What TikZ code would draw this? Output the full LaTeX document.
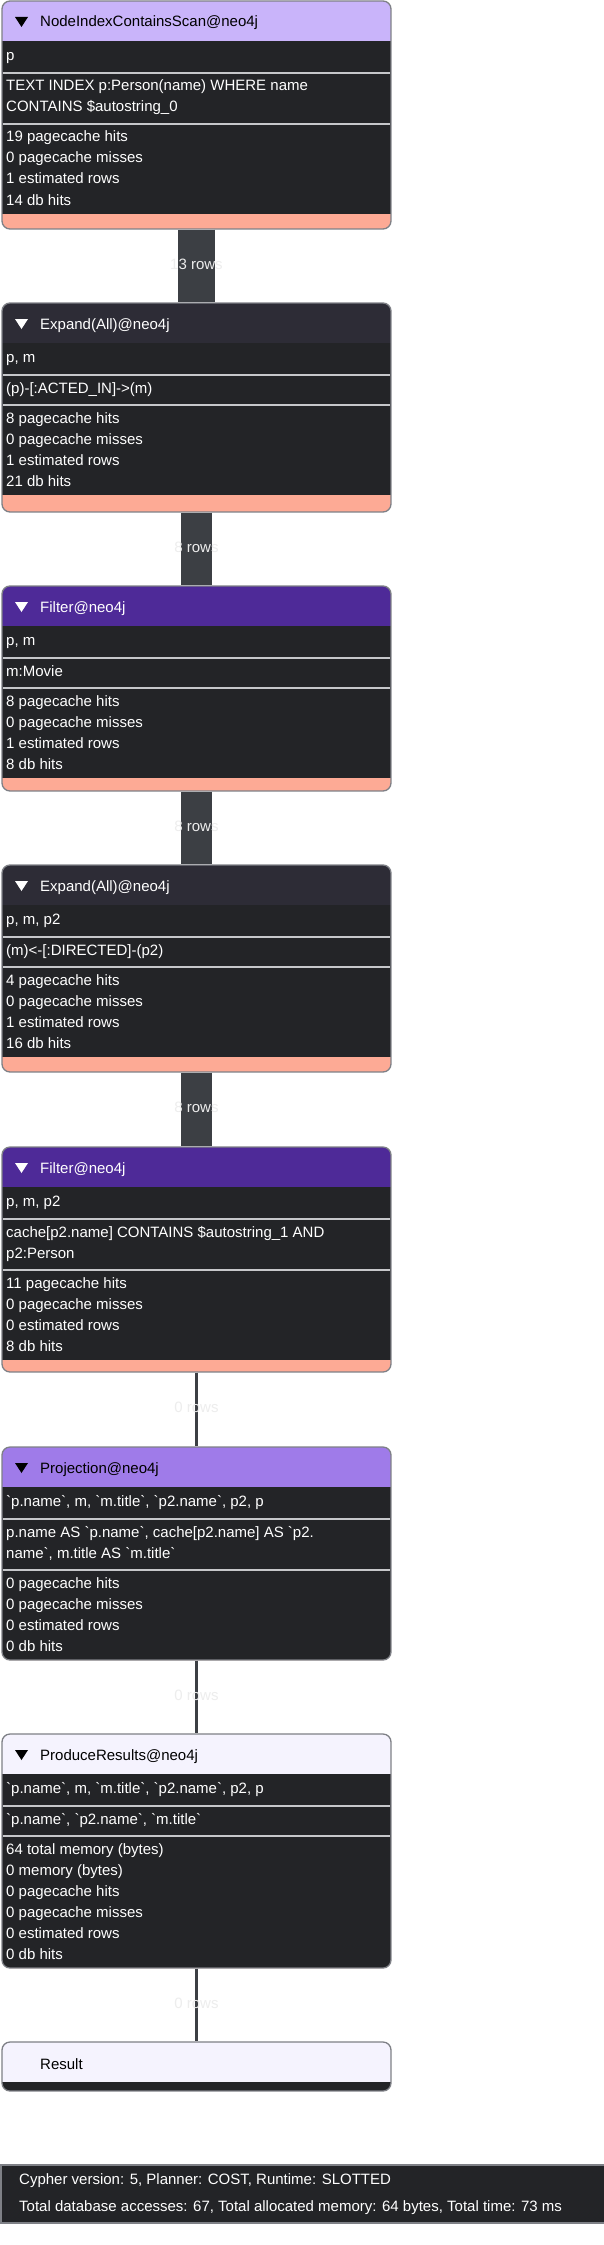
\documentclass[tikz,border=0pt]{standalone}
\usepackage{fontspec}
\setmainfont{Liberation Sans}
\usetikzlibrary{fit}

\definecolor{bodyc}{HTML}{232427}
\definecolor{scanc}{HTML}{C9B4FA}
\definecolor{expandc}{HTML}{2D2C36}
\definecolor{filterc}{HTML}{4E2A98}
\definecolor{projc}{HTML}{9F7BE9}
\definecolor{producec}{HTML}{F5F3FE}
\definecolor{hotc}{HTML}{FDAA95}
\definecolor{sepc}{HTML}{C6C7CA}
\definecolor{framec}{HTML}{7E8086}
\definecolor{barc}{HTML}{3C3F44}
\definecolor{lblc}{HTML}{EDEDED}
\newcommand{\bq}{\textasciigrave}

\tikzset{
	opframe/.style={draw=framec, line width=1.3pt, rounded corners=8pt, inner sep=0pt},
	sepline/.style={draw=sepc, line width=1.3pt},
	txt/.style={anchor=base west, inner sep=0pt, text=white, font=\fontsize{15}{18}\selectfont},
	foottxt/.style={txt, font=\fontsize{15}{18}\selectfont},
	rowbar/.style={draw=barc, line width=#1},
	rowlbl/.style={text=lblc, inner sep=0pt, yshift=2pt, font=\fontsize{15}{18}\selectfont},
}

% name, top, bottom, cost bar top, header fill, header text, title
\newcommand{\opbox}[7]{%
	\begin{scope}
		\clip[rounded corners=8pt] (2,#2) rectangle (391,#3);
		\fill[bodyc] (2,#2) rectangle (391,#3);
		\fill[#5] (2,#2) rectangle (391,#2+40);
		\fill[hotc] (2,#4) rectangle (391,#3);
	\end{scope}
	\fill[#6] (15,#2+16) -- (28,#2+16) -- (21.5,#2+26) -- cycle;
	\node[txt, text=#6] (#1-title) at (40,#2+26) {#7};
	\node[opframe, fit={(2,#2) (391,#3)}] (#1) {};
}

\begin{document}
\begin{tikzpicture}[x=1pt, y=-1pt]
	\useasboundingbox (0,0) rectangle (604,2245);
	\fill[white] (0,0) rectangle (604,2245);

	% NodeIndexContainsScan
	\opbox{scan}{1}{229}{214}{scanc}{black}{NodeIndexContainsScan@neo4j}
	\draw[sepline] (3,73) -- (390,73);
	\draw[sepline] (3,124) -- (390,124);
	\node[txt] (scan-out) at (6,61) {p};
	\node[txt] (scan-d1) at (6,91) {TEXT INDEX p:Person(name) WHERE name};
	\node[txt] (scan-d2) at (6,112) {CONTAINS \$autostring\_0};
	\foreach \s [count=\i from 0] in {19 pagecache hits, 0 pagecache misses, 1 estimated rows, 14 db hits}
		\node[txt] (scan-s\i) at (6,142+21*\i) {\s};

	% Expand(All) p -> m
	\opbox{expandA}{303}{512}{495}{expandc}{white}{Expand(All)@neo4j}
	\draw[sepline] (3,375) -- (390,375);
	\draw[sepline] (3,405) -- (390,405);
	\node[txt] (expandA-out) at (6,362) {p, m};
	\node[txt] (expandA-d1) at (6,393) {(p)-[:ACTED\_IN]->(m)};
	\foreach \s [count=\i from 0] in {8 pagecache hits, 0 pagecache misses, 1 estimated rows, 21 db hits}
		\node[txt] (expandA-s\i) at (6,423+21*\i) {\s};

	% Filter m:Movie
	\opbox{filterA}{586}{791}{778}{filterc}{white}{Filter@neo4j}
	\draw[sepline] (3,658) -- (390,658);
	\draw[sepline] (3,688) -- (390,688);
	\node[txt] (filterA-out) at (6,645) {p, m};
	\node[txt] (filterA-d1) at (6,676) {m:Movie};
	\foreach \s [count=\i from 0] in {8 pagecache hits, 0 pagecache misses, 1 estimated rows, 8 db hits}
		\node[txt] (filterA-s\i) at (6,706+21*\i) {\s};

	% Expand(All) m <- p2
	\opbox{expandB}{865}{1072}{1057}{expandc}{white}{Expand(All)@neo4j}
	\draw[sepline] (3,937) -- (390,937);
	\draw[sepline] (3,967) -- (390,967);
	\node[txt] (expandB-out) at (6,924) {p, m, p2};
	\node[txt] (expandB-d1) at (6,955) {(m)<-[:DIRECTED]-(p2)};
	\foreach \s [count=\i from 0] in {4 pagecache hits, 0 pagecache misses, 1 estimated rows, 16 db hits}
		\node[txt] (expandB-s\i) at (6,985+21*\i) {\s};

	% Filter p2
	\opbox{filterB}{1147}{1372}{1360}{filterc}{white}{Filter@neo4j}
	\draw[sepline] (3,1219) -- (390,1219);
	\draw[sepline] (3,1270) -- (390,1270);
	\node[txt] (filterB-out) at (6,1206) {p, m, p2};
	\node[txt] (filterB-d1) at (6,1237) {cache[p2.name] CONTAINS \$autostring\_1 AND};
	\node[txt] (filterB-d2) at (6,1258) {p2:Person};
	\foreach \s [count=\i from 0] in {11 pagecache hits, 0 pagecache misses, 0 estimated rows, 8 db hits}
		\node[txt] (filterB-s\i) at (6,1288+21*\i) {\s};

	% Projection
	\opbox{proj}{1447}{1660}{1660}{projc}{black}{Projection@neo4j}
	\draw[sepline] (3,1519) -- (390,1519);
	\draw[sepline] (3,1570) -- (390,1570);
	\node[txt] (proj-out) at (6,1506) {\bq p.name\bq, m, \bq m.title\bq, \bq p2.name\bq, p2, p};
	\node[txt] (proj-d1) at (6,1537) {p.name AS \bq p.name\bq, cache[p2.name] AS \bq p2.};
	\node[txt] (proj-d2) at (6,1558) {name\bq, m.title AS \bq m.title\bq};
	\foreach \s [count=\i from 0] in {0 pagecache hits, 0 pagecache misses, 0 estimated rows, 0 db hits}
		\node[txt] (proj-s\i) at (6,1588+21*\i) {\s};

	% ProduceResults
	\opbox{produce}{1734}{1968}{1968}{producec}{black}{ProduceResults@neo4j}
	\draw[sepline] (3,1806) -- (390,1806);
	\draw[sepline] (3,1836) -- (390,1836);
	\node[txt] (produce-out) at (6,1793) {\bq p.name\bq, m, \bq m.title\bq, \bq p2.name\bq, p2, p};
	\node[txt] (produce-d1) at (6,1824) {\bq p.name\bq, \bq p2.name\bq, \bq m.title\bq};
	\foreach \s [count=\i from 0] in {64 total memory (bytes), 0 memory (bytes), 0 pagecache hits, 0 pagecache misses, 0 estimated rows, 0 db hits}
		\node[txt] (produce-s\i) at (6,1854+21*\i) {\s};

	% Result
	\begin{scope}
		\clip[rounded corners=8pt] (2,2042) rectangle (391,2091);
		\fill[bodyc] (2,2042) rectangle (391,2091);
		\fill[producec] (2,2042) rectangle (391,2082);
	\end{scope}
	\node[txt, text=black] (result-title) at (40,2069) {Result};
	\node[opframe, fit={(2,2042) (391,2091)}] (result) {};

	% rows between operators
	\draw[rowbar=37pt] (scan) -- node[rowlbl] (rows1) {13 rows} (expandA);
	\draw[rowbar=31pt] (expandA) -- node[rowlbl] (rows2) {8 rows} (filterA);
	\draw[rowbar=31pt] (filterA) -- node[rowlbl] (rows3) {8 rows} (expandB);
	\draw[rowbar=31pt] (expandB) -- node[rowlbl] (rows4) {8 rows} (filterB);
	\draw[rowbar=2.2pt] (filterB) -- node[rowlbl] (rows5) {0 rows} (proj);
	\draw[rowbar=2.2pt] (proj) -- node[rowlbl] (rows6) {0 rows} (produce);
	\draw[rowbar=2.2pt] (produce) -- node[rowlbl] (rows7) {0 rows} (result);

	% summary
	\node[draw=framec, fill=bodyc, line width=1.3pt, inner sep=0pt, fit={(1,2165) (608,2223)}] (summary) {};
	\node[foottxt] (summary-a) at (19,2184) {Cypher version: 5, Planner: COST, Runtime: SLOTTED};
	\node[foottxt] (summary-b) at (19,2211) {Total database accesses: 67, Total allocated memory: 64 bytes, Total time: 73 ms};
\end{tikzpicture}
\end{document}
